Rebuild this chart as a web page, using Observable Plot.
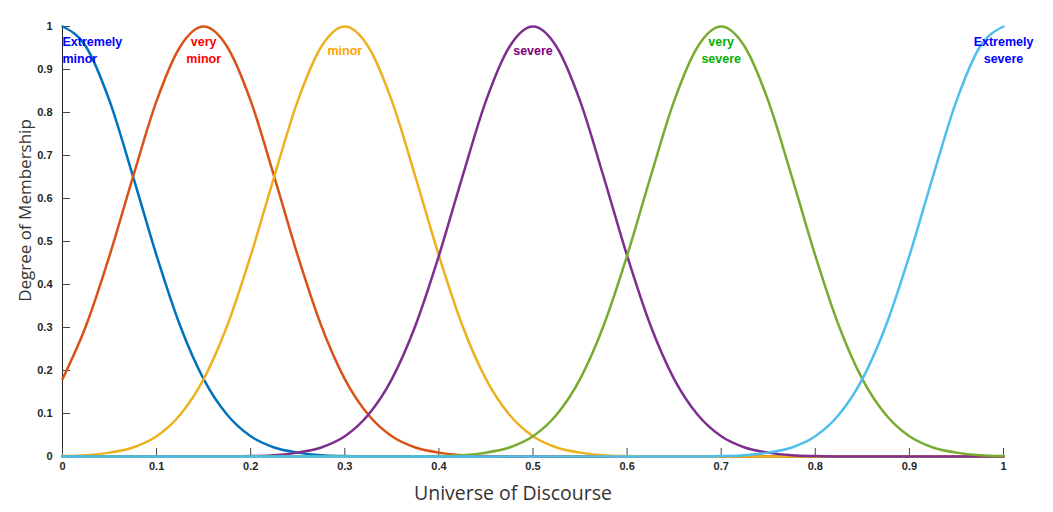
<!DOCTYPE html>
<html>
<head>
<meta charset="utf-8">
<script src="https://cdn.jsdelivr.net/npm/d3@7"></script>
<script src="https://cdn.jsdelivr.net/npm/@observablehq/plot@0.6"></script>
<style>
  html, body { margin: 0; padding: 0; background: #fff; }
  #chart { width: 1053px; height: 512px; }
</style>
</head>
<body>
<div id="chart"></div>
<script>
// Universe of discourse sample points
const universe = [0, 0.025, 0.05, 0.075, 0.1, 0.125, 0.15, 0.175, 0.2, 0.225,
  0.25, 0.275, 0.3, 0.325, 0.35, 0.375, 0.4, 0.425, 0.45, 0.475,
  0.5, 0.525, 0.55, 0.575, 0.6, 0.625, 0.65, 0.675, 0.7, 0.725,
  0.75, 0.775, 0.8, 0.825, 0.85, 0.875, 0.9, 0.925, 0.95, 0.975, 1];

// Membership degrees
const extremelyMinor = [1, 0.953, 0.827, 0.651, 0.467, 0.304, 0.18, 0.097, 0.047, 0.021,
  0.009, 0.003, 0.001, 0, 0, 0, 0, 0, 0, 0,
  0, 0, 0, 0, 0, 0, 0, 0, 0, 0,
  0, 0, 0, 0, 0, 0, 0, 0, 0, 0, 0];
const veryMinor = [0.18, 0.304, 0.467, 0.651, 0.827, 0.953, 1, 0.953, 0.827, 0.651,
  0.467, 0.304, 0.18, 0.097, 0.047, 0.021, 0.009, 0.003, 0.001, 0,
  0, 0, 0, 0, 0, 0, 0, 0, 0, 0,
  0, 0, 0, 0, 0, 0, 0, 0, 0, 0, 0];
const minor = [0.001, 0.003, 0.009, 0.021, 0.047, 0.097, 0.18, 0.304, 0.467, 0.651,
  0.827, 0.953, 1, 0.953, 0.827, 0.651, 0.467, 0.304, 0.18, 0.097,
  0.047, 0.021, 0.009, 0.003, 0.001, 0, 0, 0, 0, 0,
  0, 0, 0, 0, 0, 0, 0, 0, 0, 0, 0];
const severe = [0, 0, 0, 0, 0, 0, 0, 0, 0.001, 0.003,
  0.009, 0.021, 0.047, 0.097, 0.18, 0.304, 0.467, 0.651, 0.827, 0.953,
  1, 0.953, 0.827, 0.651, 0.467, 0.304, 0.18, 0.097, 0.047, 0.021,
  0.009, 0.003, 0.001, 0, 0, 0, 0, 0, 0, 0, 0];
const verySevere = [0, 0, 0, 0, 0, 0, 0, 0, 0, 0,
  0, 0, 0, 0, 0, 0, 0.001, 0.003, 0.009, 0.021,
  0.047, 0.097, 0.18, 0.304, 0.467, 0.651, 0.827, 0.953, 1, 0.953,
  0.827, 0.651, 0.467, 0.304, 0.18, 0.097, 0.047, 0.021, 0.009, 0.003, 0.001];
const extremelySevere = [0, 0, 0, 0, 0, 0, 0, 0, 0, 0,
  0, 0, 0, 0, 0, 0, 0, 0, 0, 0,
  0, 0, 0, 0, 0, 0, 0, 0, 0.001, 0.003,
  0.009, 0.021, 0.047, 0.097, 0.18, 0.304, 0.467, 0.651, 0.827, 0.953, 1];

const seriesNames = ["Extremely minor", "very minor", "minor", "severe", "very severe", "Extremely severe"];
const seriesValues = [extremelyMinor, veryMinor, minor, severe, verySevere, extremelySevere];
const lineColors = ["#0072BD", "#D95319", "#EDB120", "#7E2F8E", "#77AC30", "#4DBEEE"];

// Term labels
const labelTexts = ["Extremely\nminor", "very\nminor", "minor", "severe", "very\nsevere", "Extremely\nsevere"];
const labelX = [0, 0.15, 0.3, 0.5, 0.7, 1];
const labelY = [0.947, 0.947, 0.947, 0.947, 0.947, 0.947];
const labelColors = ["#0000FF", "#FF0000", "#FFA500", "#800080", "#00B000", "#0000FF"];

const xTicks = [0, 0.1, 0.2, 0.3, 0.4, 0.5, 0.6, 0.7, 0.8, 0.9, 1];
const yTicks = [0, 0.1, 0.2, 0.3, 0.4, 0.5, 0.6, 0.7, 0.8, 0.9, 1];

const rows = [];
seriesValues.forEach((vals, s) => {
  vals.forEach((v, i) => rows.push({ series: seriesNames[s], x: universe[i], y: v }));
});
const labels = labelTexts.map((t, i) => ({ text: t, x: labelX[i], y: labelY[i], color: labelColors[i] }));

const sans = "Liberation Sans, Arial, sans-serif";
const tickFont = { fontFamily: sans, fontWeight: "bold", fontSize: 11 };
const labelOpts = { x: "x", y: "y", text: "text", fill: "color", lineAnchor: "middle", lineHeight: 1.36, fontSize: 12.5, fontWeight: "bold", fontFamily: sans };

const chart = Plot.plot({
  width: 1053,
  height: 512,
  marginLeft: 62,
  marginRight: 50,
  marginTop: 26,
  marginBottom: 56,
  style: { fontFamily: sans, background: "#fff", color: "#262626" },
  x: { domain: [0, 1] },
  y: { domain: [0, 1] },
  marks: [
    Plot.ruleX([0], { stroke: "#262626", strokeWidth: 1 }),
    Plot.ruleY([0], { stroke: "#262626", strokeWidth: 1 }),
    // inward tick marks (about 8px long)
    Plot.ruleX(xTicks, { x: d => d, y1: 0, y2: 0.0186, stroke: "#444", strokeWidth: 1 }),
    Plot.ruleY(yTicks, { y: d => d, x1: 0, x2: 0.0085, stroke: "#444", strokeWidth: 1 }),
    Plot.axisX({ ticks: xTicks, tickSize: 0, tickPadding: 6, tickFormat: d => String(d), label: null, fill: "#262626", ...tickFont }),
    Plot.axisY({ ticks: yTicks, tickSize: 0, tickPadding: 10, tickFormat: d => String(d), label: null, fill: "#262626", ...tickFont }),
    ...seriesNames.map((name, s) =>
      Plot.line(rows.filter(r => r.series === name), { x: "x", y: "y", stroke: lineColors[s], strokeWidth: 2.5, curve: "monotone-x" })
    ),
    Plot.text(labels.slice(0, 1), { ...labelOpts, textAnchor: "start" }),
    Plot.text(labels.slice(1), { ...labelOpts, textAnchor: "middle" }),
    Plot.text(["Universe of Discourse"], { frameAnchor: "bottom", textAnchor: "middle", dy: 37, dx: -20, lineAnchor: "middle", fontSize: 19.5, fill: "#333", fontFamily: "Open Sans, Noto Sans, sans-serif" }),
    Plot.text(["Degree of Membership"], { frameAnchor: "left", textAnchor: "middle", dx: -37, dy: -31, rotate: -90, lineAnchor: "middle", fontSize: 17, fill: "#333", fontFamily: "Open Sans, Noto Sans, sans-serif" })
  ]
});
document.getElementById("chart").appendChild(chart);
</script>
</body>
</html>
